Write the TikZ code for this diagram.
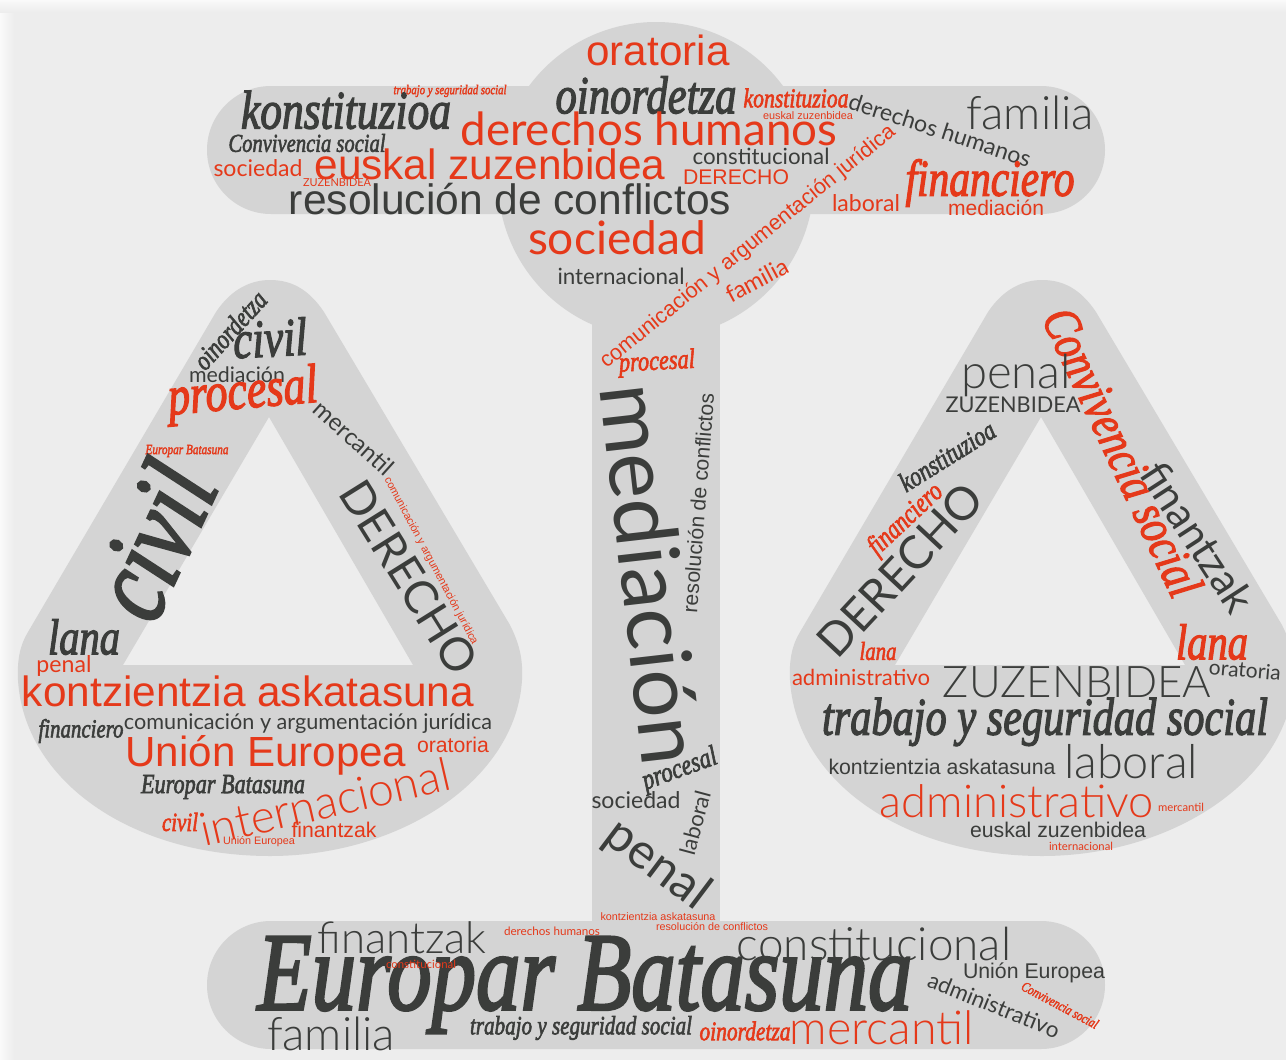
\documentclass[tikz,border=0pt]{standalone}
\usepackage{fontspec}
\usepackage{graphicx}
\setmainfont{Liberation Sans}
\newfontfamily\ralf{Lato Light}
\newfontfamily\ralr{Lato}
\newfontfamily\arif{Liberation Sans}
\newfontfamily\scrf{Liberation Serif}[ItalicFeatures={FakeBold=2.5}]
\newcommand{\scrs}{\scrf\itshape}
\definecolor{pagebg}{HTML}{EDEDED}
\definecolor{shapegray}{HTML}{D4D4D4}
\definecolor{dk}{HTML}{3B3D3B}
\definecolor{orng}{HTML}{E5391A}
\tikzset{
  scale shape/.style={fill=shapegray,draw=none},
  cloudword/.style={inner sep=0pt,outer sep=0pt,anchor=center}
}
\newcounter{wordno}
% helper: x, y, angle, width, colour, font, text
\newcommand{\wordat}[7]{%
  \stepcounter{wordno}%
  \node[cloudword,rotate=#3,text=#5] (word\arabic{wordno}) at (#1,#2)
    {\resizebox{#4pt}{!}{\ifx\scrs#6\scalebox{1}[1.25]{\fontsize{20}{24}\selectfont #6\relax #7}\else\fontsize{20}{24}\selectfont #6\relax #7\fi}};%
}
\begin{document}
\begin{tikzpicture}[x=1pt,y=-1pt]
\useasboundingbox (0,0) rectangle (1286,1060);
\fill[pagebg] (0,0) rectangle (1286,1060);
\shade[left color=white!70!pagebg,right color=pagebg,draw=none] (0,0) rectangle (14,1060);
\shade[top color=white!70!pagebg,bottom color=pagebg,draw=none] (0,0) rectangle (1286,12);
% balance: beam, disc, column, base
\fill[scale shape] (207,86) [rounded corners=64pt] rectangle (1105,214);
\fill[scale shape] (656,180) circle[radius=158];
\fill[scale shape] (592,300) rectangle (720,930);
\fill[scale shape] (207,921) [rounded corners=64pt] rectangle (1105,1049);
% pans
\newcommand{\pan}{%
  (216,312) .. controls (232,288) and (252,280) .. (270,280)
  .. controls (290,280) and (308,288) .. (324,312)
  -- (510,625) .. controls (520,645) and (523,660) .. (522,680)
  .. controls (516,780) and (400,856) .. (270,856)
  .. controls (130,856) and (24,780) .. (18,680)
  .. controls (17,660) and (20,645) .. (28,632) -- cycle
  (269,417) -- (413,665) -- (123,665) -- cycle}
\fill[scale shape,even odd rule] \pan;
\begin{scope}[xshift=772pt]
\fill[scale shape,even odd rule] \pan;
\end{scope}
% top
\wordat{658}{50}{0}{143}{orng}{\arif}{oratoria}
\wordat{646}{95}{0}{181}{dk}{\scrs}{oinordetza}
\wordat{796}{98}{0}{105}{orng}{\scrs}{konstituzioa}
\wordat{450}{91}{0}{113}{orng}{\scrs}{trabajo y seguridad social}
\wordat{346}{110}{0}{210}{dk}{\scrs}{konstituzioa}
\wordat{649}{129}{0}{377}{orng}{\ralr}{derechos humanos}
\wordat{808}{116}{0}{90}{orng}{\arif}{euskal zuzenbidea}
\wordat{940}{130}{-18}{190}{dk}{\ralr}{derechos humanos}
\wordat{1030}{113}{0}{128}{dk}{\ralf}{familia}
\wordat{307}{143}{0}{157}{dk}{\scrs}{Convivencia social}
\wordat{258}{168}{0}{89}{orng}{\ralr}{sociedad}
\wordat{490}{164}{0}{351}{orng}{\arif}{euskal zuzenbidea}
\wordat{337}{183}{0}{68}{orng}{\ralr}{ZUZENBIDEA}
\wordat{761}{156}{0}{137}{dk}{\ralr}{constitucional}
\wordat{736}{177}{0}{106}{orng}{\arif}{DERECHO}
\wordat{510}{199}{0}{442}{dk}{\arif}{resolución de conflictos}
\wordat{990}{183}{0}{169}{orng}{\scrs}{financiero}
\wordat{866}{203}{0}{68}{orng}{\ralr}{laboral}
\wordat{996}{208}{0}{96}{orng}{\arif}{mediación}
\wordat{617}{238}{0}{178}{orng}{\ralr}{sociedad}
\wordat{621}{276}{0}{127}{dk}{\ralr}{internacional}
\wordat{748}{247}{39}{373}{orng}{\arif}{comunicación y argumentación jurídica}
\wordat{757}{280}{28}{68}{orng}{\ralr}{familia}
\wordat{657}{363}{3}{76}{orng}{\scrs}{procesal}
% column
\wordat{652}{574}{-83.5}{383}{dk}{\ralr}{mediación}
\wordat{698}{503}{85.5}{220}{dk}{\arif}{resolución de conflictos}
\wordat{680}{770}{20}{78}{dk}{\scrs}{procesal}
\wordat{636}{800}{0}{89}{dk}{\ralr}{sociedad}
\wordat{695}{823}{75}{65}{dk}{\ralr}{laboral}
\wordat{657}{865}{-37}{117}{dk}{\ralr}{penal}
\wordat{658}{917}{0}{115}{orng}{\arif}{kontzientzia askatasuna}
\wordat{712}{927}{0}{112}{orng}{\arif}{resolución de conflictos}
\wordat{552}{931}{0}{96}{orng}{\ralr}{derechos humanos}
% base
\wordat{402}{938}{0}{169}{dk}{\ralf}{finantzak}
\wordat{874}{944}{0}{274}{dk}{\ralf}{constitucional}
\wordat{585}{985}{0}{655}{dk}{\scrs}{Europar Batasuna}
\wordat{421}{964}{0}{70}{orng}{\ralr}{constitucional}
\wordat{1034}{973}{0}{142}{dk}{\arif}{Unión Europea}
\wordat{994}{1005}{-22}{140}{dk}{\ralr}{administrativo}
\wordat{1060}{1005}{-28}{85}{orng}{\scrs}{Convivencia social}
\wordat{331}{1034}{0}{128}{dk}{\ralf}{familia}
\wordat{581}{1028}{0}{222}{dk}{\scrs}{trabajo y seguridad social}
\wordat{745}{1031}{0}{91}{orng}{\scrs}{oinordetza}
\wordat{882}{1028}{0}{184}{orng}{\ralf}{mercantil}
% left pan
\wordat{230}{330}{48}{95}{dk}{\scrs}{oinordetza}
\wordat{270}{338}{3}{74}{dk}{\scrs}{civil}
\wordat{237}{375}{0}{96}{dk}{\ralr}{mediación}
\wordat{243}{395}{5}{150}{orng}{\scrs}{procesal}
\wordat{354}{438}{-42}{98}{dk}{\ralr}{mercantil}
\wordat{187}{451}{0}{83}{orng}{\scrs}{Europar Batasuna}
\wordat{152}{540}{65}{155}{dk}{\scrs}{civil}
\wordat{409}{577}{-58}{218}{dk}{\ralr}{DERECHO}
\wordat{431}{561}{-62}{188}{orng}{\arif}{comunicación y argumentación jurídica}
\wordat{84}{637}{0}{72}{dk}{\scrs}{lana}
\wordat{64}{666}{0}{55}{orng}{\ralr}{penal}
\wordat{248}{691}{0}{452}{orng}{\arif}{kontzientzia askatasuna}
\wordat{81}{731}{0}{85}{dk}{\scrs}{financiero}
\wordat{308}{724}{0}{368}{dk}{\ralr}{comunicación y argumentación jurídica}
\wordat{266}{755}{0}{281}{orng}{\arif}{Unión Europea}
\wordat{453}{745}{0}{72}{orng}{\arif}{oratoria}
\wordat{223}{787}{0}{164}{dk}{\scrs}{Europar Batasuna}
\wordat{325}{802}{13}{255}{orng}{\ralf}{internacional}
\wordat{180}{822}{0}{36}{orng}{\scrs}{civil}
\wordat{334}{830}{0}{85}{orng}{\arif}{finantzak}
\wordat{259}{842}{0}{72}{orng}{\arif}{Unión Europea}
% right pan
\wordat{1123}{452}{-65}{312}{orng}{\scrs}{Convivencia social}
\wordat{1016}{375}{0}{110}{dk}{\ralf}{penal}
\wordat{1013}{405}{0}{135}{dk}{\ralr}{ZUZENBIDEA}
\wordat{1198}{537}{-57}{170}{dk}{\ralr}{finantzak}
\wordat{947}{456}{32}{108}{dk}{\scrs}{konstituzioa}
\wordat{906}{520}{43}{92}{orng}{\scrs}{financiero}
\wordat{900}{570}{47}{218}{dk}{\ralr}{DERECHO}
\wordat{878}{651}{0}{37}{orng}{\scrs}{lana}
\wordat{1212}{642}{0}{72}{orng}{\scrs}{lana}
\wordat{1245}{670}{-5}{72}{dk}{\ralr}{oratoria}
\wordat{861}{677}{0}{138}{orng}{\ralr}{administrativo}
\wordat{1077}{682}{0}{268}{dk}{\ralf}{ZUZENBIDEA}
\wordat{1045}{722}{0}{446}{dk}{\scrs}{trabajo y seguridad social}
\wordat{942}{767}{0}{227}{dk}{\arif}{kontzientzia askatasuna}
\wordat{1131}{762}{0}{134}{dk}{\ralf}{laboral}
\wordat{1017}{801}{0}{274}{orng}{\ralf}{administrativo}
\wordat{1181}{807}{0}{46}{orng}{\ralr}{mercantil}
\wordat{1058}{830}{0}{176}{dk}{\arif}{euskal zuzenbidea}
\wordat{1081}{846}{0}{64}{orng}{\ralr}{internacional}
\end{tikzpicture}
\end{document}
